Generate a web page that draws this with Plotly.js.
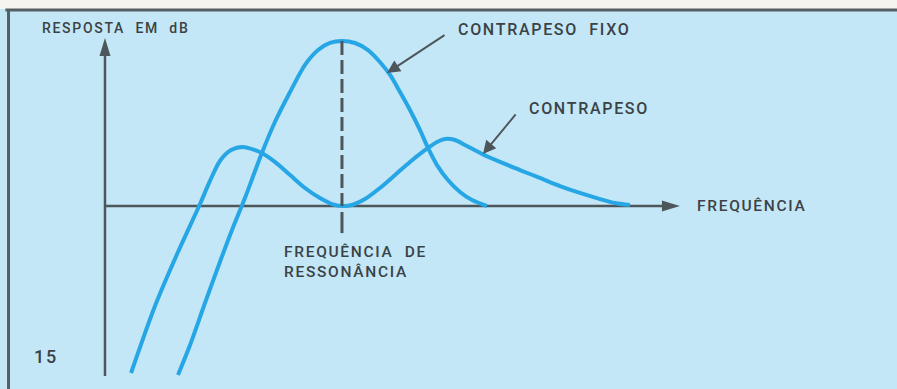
<!DOCTYPE html>
<html>
<head>
<meta charset="utf-8">
<script src="https://cdn.plot.ly/plotly-3.0.1.min.js"></script>
<style>
html,body{margin:0;padding:0;background:#c3e7f6;}
#chart{width:897px;height:389px;}
.annotation-text{letter-spacing:1.7px;}
</style>
</head>
<body>
<div id="chart"></div>
<script>
// Relative frequency (resonance = 1) and response in dB
const fixoFreq = [0.308,0.359,0.422,0.485,0.536,0.591,0.662,0.717,0.781,0.844,0.899,0.949,1.000,1.055,1.110,1.160,1.203,1.245,1.287,1.329,1.363,1.401,1.447,1.498,1.549,1.612];
const fixoDb   = [-10.24,-8.42,-5.88,-3.39,-1.45,0.50,3.21,5.09,6.91,8.55,9.45,9.88,10.0,9.88,9.45,8.73,7.94,6.91,5.82,4.61,3.52,2.48,1.58,0.85,0.36,0.0];

const contraFreq = [0.110,0.211,0.308,0.401,0.443,0.485,0.532,0.582,0.633,0.662,0.717,0.781,0.844,0.907,0.958,1.000,1.042,1.097,1.160,1.224,1.287,1.363,1.401,1.435,1.477,1.519,1.591,1.667,1.751,1.835,1.920,2.004,2.089,2.152,2.215];
const contraDb   = [-10.12,-6.06,-2.79,0.12,1.52,2.73,3.39,3.58,3.39,3.21,2.67,1.88,1.09,0.48,0.12,0.0,0.06,0.42,1.09,1.88,2.67,3.52,3.88,4.06,4.00,3.70,3.15,2.67,2.18,1.70,1.21,0.79,0.42,0.18,0.06];

const resonanceFreq = 1.0;
const resonancePeakDb = 10.0;
const resonanceTickDb = [-0.36, -1.64];

const xAxisEnd = 2.426;
const yAxisTop = 10.18;
const yAxisBottom = -10.3;

const labels = {
  yTitle: "RESPOSTA  EM  dB",
  xTitle: "FREQUÊNCIA",
  fixo: "CONTRAPESO  FIXO",
  contra: "CONTRAPESO",
  resonance: "FREQUÊNCIA  DE<br>RESSONÂNCIA",
  fig: "15"
};

const curveColor = "#27a6e6";
const inkColor = "#4d565b";
const textColor = "#3b4246";

const traces = [
  {x: fixoFreq, y: fixoDb, mode: "lines", line: {color: curveColor, width: 4, shape: "spline", smoothing: 0.8}, hoverinfo: "skip"},
  {x: contraFreq, y: contraDb, mode: "lines", line: {color: curveColor, width: 4, shape: "spline", smoothing: 0.8}, hoverinfo: "skip"},
  {x: [resonanceFreq, resonanceFreq], y: [resonancePeakDb, 0], mode: "lines", line: {color: inkColor, width: 3, dash: "14px,5px"}, hoverinfo: "skip"},
  {x: [resonanceFreq, resonanceFreq], y: resonanceTickDb, mode: "lines", line: {color: inkColor, width: 3}, hoverinfo: "skip"}
];

const font = {family: "Roboto, 'DejaVu Sans', sans-serif", color: textColor, weight: 500};

const annotations = [
  {x: -0.274, y: 10.79, text: labels.yTitle, xanchor: "left", yanchor: "middle", showarrow: false, font: Object.assign({}, font, {size: 14})},
  {x: 1.481, y: 10.67, text: labels.fixo, xanchor: "left", yanchor: "middle", showarrow: false, font: Object.assign({}, font, {size: 16})},
  {x: 1.781, y: 5.94, text: labels.contra, xanchor: "left", yanchor: "middle", showarrow: false, font: Object.assign({}, font, {size: 16})},
  {x: 2.489, y: 0, text: labels.xTitle, xanchor: "left", yanchor: "middle", showarrow: false, font: Object.assign({}, font, {size: 15.5})},
  {x: 0.747, y: -3.39, text: labels.resonance, xanchor: "left", yanchor: "middle", align: "left", showarrow: false, font: Object.assign({}, font, {size: 15.5})},
  {x: -0.308, y: -9.09, text: labels.fig, xanchor: "left", yanchor: "middle", showarrow: false, font: Object.assign({}, font, {size: 18})},
  // pointer arrows
  {x: 1.190, y: 8.06, ax: 1.439, ay: 10.42, axref: "x", ayref: "y", text: "", showarrow: true, arrowhead: 2, arrowsize: 1.3, arrowwidth: 2, arrowcolor: inkColor},
  {x: 1.595, y: 3.15, ax: 1.738, ay: 5.64, axref: "x", ayref: "y", text: "", showarrow: true, arrowhead: 2, arrowsize: 1.3, arrowwidth: 2, arrowcolor: inkColor}
];

const shapes = [
  // top white strip and frame
  {type: "rect", xref: "paper", yref: "paper", x0: 0, x1: 1, y0: 0.9769, y1: 1.01, fillcolor: "#f6f4ef", line: {width: 0}, layer: "below"},
  {type: "line", xref: "paper", yref: "paper", x0: 0.006, x1: 1, y0: 0.9745, y1: 0.9745, line: {color: "#555e63", width: 3}},
  {type: "line", xref: "paper", yref: "paper", x0: 0.0095, x1: 0.0095, y0: -0.01, y1: 0.9745, line: {color: "#555e63", width: 3}},
  // axes
  {type: "line", xref: "x", yref: "y", x0: 0, x1: 0, y0: yAxisBottom, y1: yAxisTop - 0.6, line: {color: inkColor, width: 2.5}, layer: "below"},
  {type: "line", xref: "x", yref: "y", x0: 0, x1: xAxisEnd - 0.04, y0: 0, y1: 0, line: {color: inkColor, width: 2.5}, layer: "below"},
  {type: "path", xref: "x", yref: "y", xsizemode: "pixel", ysizemode: "pixel", xanchor: 0, yanchor: yAxisTop, path: "M-5.5,-18 L5.5,-18 L0,0 Z", fillcolor: inkColor, line: {width: 0}},
  {type: "path", xref: "x", yref: "y", xsizemode: "pixel", ysizemode: "pixel", xanchor: xAxisEnd, yanchor: 0, path: "M-18,-5.5 L-18,5.5 L0,0 Z", fillcolor: inkColor, line: {width: 0}}
];

const layout = {
  width: 897, height: 389, autosize: false,
  margin: {l: 0, r: 0, t: 0, b: 0, pad: 0},
  paper_bgcolor: "#c3e7f6", plot_bgcolor: "#c3e7f6",
  showlegend: false,
  xaxis: {range: [-0.443, 3.342], visible: false, fixedrange: true},
  yaxis: {range: [-11.09, 12.485], visible: false, fixedrange: true},
  annotations: annotations,
  shapes: shapes
};

Plotly.newPlot("chart", traces, layout, {displayModeBar: false, staticPlot: true});
</script>
</body>
</html>
